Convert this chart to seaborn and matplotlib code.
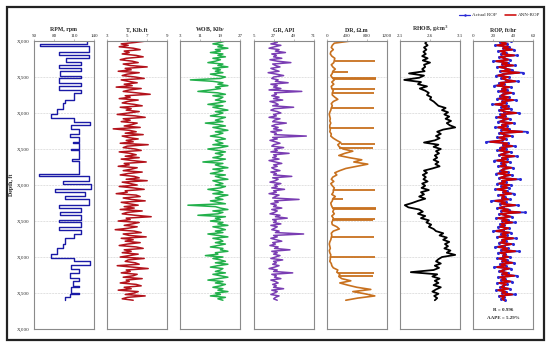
import numpy as np
import pandas as pd
import seaborn as sns
import matplotlib.pyplot as plt
from matplotlib.patches import Rectangle
from matplotlib.lines import Line2D

# depth samples (relative ft)
depth20 = np.arange(0, 3601, 20)   # fine logs: T, WOB, GR, ROP
depth30 = np.arange(0, 3601, 30)   # DR, RHOB
depth_ticks = [0, 500, 1000, 1500, 2000, 2500, 3000, 3500, 4000]
depth_labels = ["X,000", "X,500", "X,000", "X,500", "X,000", "X,500", "X,000", "X,500", "X,000"]

# RPM is blocky: value holds from each break depth to the next
rpm_depth = [0, 40, 70, 150, 200, 240, 290, 330, 380, 420, 480, 520, 580, 620, 680, 720, 820, 860, 950, 1020,
             1070, 1120, 1160, 1220, 1290, 1330, 1400, 1420, 1500, 1520, 1640, 1660, 1850, 1880, 1950, 1990,
             2060, 2100, 2150, 2200, 2280, 2320, 2380, 2420, 2480, 2520, 2580, 2620, 2680, 2740, 2820, 2870,
             2960, 3020, 3060, 3110, 3160, 3220, 3290, 3330, 3400, 3420, 3500, 3520, 3560]
rpm_vals = [130, 59, 132, 88, 133, 98, 121, 87, 121, 89, 120, 88, 121, 88, 120, 110, 96, 93, 84, 76,
            110, 134, 106, 118, 104, 118, 108, 118, 106, 118, 107, 118, 58, 132, 93, 136, 82, 126, 97, 132,
            88, 121, 89, 120, 88, 121, 88, 120, 110, 96, 93, 84, 76, 110, 134, 106, 118, 104, 118, 108,
            118, 106, 118, 104, 97]
rpm_end = 3600

torque = [6.9, 5.8, 4.4, 5.1, 4.2, 5.6, 6.3, 4.7, 5.2, 4.5,
          5.9, 6.6, 4.9, 4.3, 5.5, 6.1, 4.6, 5.3, 7.0, 4.8,
          5.4, 4.1, 6.2, 5.0, 4.5, 5.8, 6.7, 4.4, 5.1, 6.0,
          4.7, 5.5, 3.9, 6.4, 5.2, 4.6, 5.9, 7.3, 4.8, 5.3,
          4.2, 6.1, 5.0, 4.5, 5.7, 6.5, 4.3, 5.4, 4.9, 6.2,
          5.1, 4.0, 5.8, 6.8, 4.6, 5.3, 4.4, 6.0, 5.5, 4.7,
          6.3, 3.6, 5.2, 5.9, 4.8, 6.6, 4.5, 5.1, 6.1, 4.9,
          5.6, 4.3, 7.1, 5.0, 4.6, 5.8, 6.4, 4.2, 5.3, 5.9,
          4.8, 6.2, 4.4, 5.5, 6.9, 4.7, 5.2, 4.1, 6.0, 5.4,
          4.6, 6.5, 5.1, 4.3, 5.7, 6.2, 4.9, 7.0, 4.5, 5.3,
          6.0, 4.2, 5.6, 6.7, 4.8, 5.0, 3.9, 5.9, 6.3, 4.6,
          5.4, 6.8, 4.4, 5.2, 6.1, 4.7, 5.7, 4.3, 6.5, 5.0,
          4.5, 5.8, 7.4, 4.9, 5.3, 4.1, 6.2, 5.5, 4.7, 6.0,
          5.1, 3.8, 5.7, 6.4, 4.6, 5.2, 6.9, 4.4, 5.6, 4.8,
          6.3, 5.0, 4.2, 5.9, 6.6, 4.7, 5.4, 4.5, 6.1, 5.2,
          4.3, 6.7, 5.1, 4.8, 5.8, 6.2, 4.0, 5.5, 7.1, 4.9,
          5.3, 4.4, 6.0, 5.6, 4.6, 6.5, 4.9, 5.2, 4.3, 5.9,
          6.4, 4.7, 5.4, 4.1, 6.1, 5.7, 4.8, 6.8, 5.0, 4.5,
          5.6]

wob = [21, 19, 16, 20, 18, 22, 17, 19, 15, 20,
       18, 21, 16, 19, 17, 14, 20, 18, 22, 16,
       19, 17, 20, 15, 18, 21, 19, 7, 16, 20,
       18, 22, 17, 19, 15, 10, 18, 21, 16, 20,
       19, 17, 21, 18, 14, 20, 16, 19, 22, 17,
       20, 18, 15, 21, 19, 17, 20, 13, 18, 21,
       16, 19, 22, 17, 20, 18, 15, 19, 21, 17,
       18, 20, 16, 22, 19, 14, 18, 21, 17, 20,
       19, 16, 21, 18, 12, 20, 17, 19, 22, 16,
       20, 18, 15, 21, 17, 19, 22, 16, 18, 20,
       17, 21, 19, 14, 18, 20, 16, 22, 19, 17,
       20, 15, 18, 21, 6, 17, 19, 22, 16, 20,
       18, 10, 21, 17, 19, 15, 20, 18, 22, 16,
       19, 21, 17, 20, 14, 18, 22, 16, 19, 20,
       17, 21, 18, 15, 20, 19, 22, 17, 18, 13,
       20, 16, 19, 21, 17, 22, 18, 15, 20, 19,
       17, 21, 16, 19, 22, 18, 14, 20, 17, 21,
       19, 16, 20, 18, 22, 17, 19, 15, 21, 18,
       20]

gr = [26, 31, 24, 35, 28, 22, 33, 29, 40, 25,
      30, 27, 36, 23, 31, 46, 26, 29, 34, 24,
      28, 33, 21, 30, 38, 27, 25, 32, 29, 43,
      24, 31, 27, 35, 22, 58, 28, 30, 25, 33,
      27, 37, 23, 29, 32, 26, 49, 28, 24, 31,
      35, 27, 30, 22, 34, 28, 26, 41, 29, 25,
      32, 27, 36, 24, 30, 28, 63, 26, 31, 23,
      29, 34, 27, 25, 38, 28, 31, 24, 44, 27,
      30, 26, 33, 22, 29, 36, 27, 31, 25, 28,
      34, 24, 30, 27, 47, 26, 32, 29, 23, 35,
      28, 31, 25, 39, 27, 30, 22, 33, 29, 26,
      55, 28, 32, 24, 30, 27, 36, 25, 31, 28,
      23, 34, 29, 42, 26, 30, 27, 35, 24, 31,
      28, 25, 33, 29, 60, 27, 31, 24, 30, 36,
      26, 29, 23, 32, 28, 45, 25, 31, 27, 34,
      29, 24, 37, 27, 30, 26, 33, 28, 22, 31,
      27, 48, 25, 30, 28, 35, 24, 29, 32, 26,
      30, 27, 38, 25, 31, 28, 24, 33, 29, 27,
      31]

# resistivity background trend plus thin single-sample spikes
dr = [480, 150, 110, 90, 130, 80, 70, 100, 160, 150,
      140, 90, 120, 170, 120, 110, 80, 110, 150, 100,
      140, 90, 100, 130, 110, 110, 160, 220, 130, 90,
      110, 90, 80, 60, 50, 60, 70, 60, 80, 60,
      60, 70, 60, 90, 80, 130, 200, 280, 220, 250,
      330, 520, 360, 240, 450, 700, 540, 820, 600, 380,
      260, 160, 200, 120, 90, 140, 80, 110, 150, 130,
      130, 100, 170, 120, 110, 80, 90, 110, 140, 120,
      150, 100, 130, 120, 100, 110, 200, 250, 130, 90,
      100, 90, 80, 60, 50, 60, 70, 50, 60, 80,
      70, 70, 60, 90, 100, 130, 220, 200, 260, 240,
      300, 480, 260, 420, 600, 880, 520, 760, 960, 620, 380]
dr_spike_depth = [275, 425, 512, 528, 668, 725, 925, 1205, 1435, 1480,
                  2065, 2195, 2318, 2334, 2478, 2492, 2718, 3005, 3215, 3262]
dr_spike_base = [160, 120, 110, 150, 100, 110, 90, 60, 280, 250,
                 130, 120, 110, 140, 120, 100, 90, 70, 220, 260]
dr_spike_vals = [960, 420, 980, 980, 960, 950, 940, 950, 960, 920,
                 960, 320, 980, 980, 960, 930, 950, 960, 950, 920]

rhob = [2.55, 2.52, 2.56, 2.50, 2.54, 2.49, 2.53, 2.47, 2.56, 2.48,
        2.60, 2.50, 2.52, 2.47, 2.51, 2.25, 2.50, 2.42, 2.17, 2.45,
        2.40, 2.55, 2.43, 2.52, 2.58, 2.55, 2.62, 2.60, 2.66, 2.70,
        2.74, 2.86, 2.80, 2.90, 2.84, 2.92, 2.86, 2.95, 2.88, 2.93,
        3.02, 2.82, 2.72, 2.78, 2.70, 2.76, 2.68, 2.50, 2.74, 2.66,
        2.78, 2.70, 2.75, 2.68, 2.72, 2.66, 2.74, 2.69, 2.76, 2.64,
        2.50, 2.55, 2.48, 2.53, 2.49, 2.56, 2.47, 2.52, 2.46, 2.58,
        2.45, 2.50, 2.42, 2.52, 2.40, 2.30, 2.18, 2.24, 2.42, 2.48,
        2.40, 2.52, 2.45, 2.58, 2.54, 2.62, 2.58, 2.66, 2.70, 2.82,
        2.76, 2.88, 2.82, 2.92, 2.85, 2.90, 2.84, 2.94, 2.88, 3.02,
        2.80, 2.74, 2.70, 2.78, 2.68, 2.75, 2.66, 2.28, 2.72, 2.64,
        2.76, 2.68, 2.74, 2.66, 2.78, 2.70, 2.64, 2.74, 2.67, 2.72, 2.68]

rop_actual = [38, 27, 34, 22, 36, 30, 41, 25, 33, 28,
              44, 26, 31, 37, 20, 35, 29, 42, 24, 32,
              39, 27, 50, 30, 23, 36, 28, 33, 45, 26,
              31, 21, 38, 29, 34, 25, 40, 30, 27, 36,
              24, 43, 29, 33, 19, 35, 28, 38, 26, 31,
              46, 27, 32, 23, 37, 30, 25, 41, 29, 34,
              22, 36, 28, 54, 26, 31, 39, 24, 33, 29,
              13, 35, 30, 42, 27, 33, 24, 38, 31, 26,
              44, 29, 34, 21, 37, 28, 32, 25, 40, 30,
              27, 35, 23, 39, 31, 26, 47, 29, 33, 24,
              38, 28, 36, 22, 34, 30, 41, 25, 32, 29,
              37, 18, 33, 27, 45, 30, 24, 36, 28, 52,
              26, 32, 39, 23, 35, 29, 42, 27, 31, 25,
              36, 30, 20, 38, 28, 34, 24, 43, 29, 33,
              26, 40, 31, 22, 35, 28, 46, 25, 32, 30,
              37, 24, 34, 29, 41, 27, 33, 21, 38, 30,
              26, 35, 29, 44, 25, 32, 28, 39, 24, 34,
              30, 27, 37, 23, 33, 29, 42, 26, 31, 28,
              32]

rop_ann = [36, 28, 33, 24, 35, 30, 39, 27, 32, 29,
           41, 27, 31, 35, 23, 34, 29, 40, 26, 32,
           37, 28, 46, 30, 25, 35, 29, 33, 42, 27,
           31, 24, 36, 29, 33, 27, 38, 30, 28, 35,
           26, 40, 29, 32, 22, 34, 29, 36, 27, 31,
           43, 28, 32, 25, 35, 30, 27, 39, 29, 33,
           25, 35, 29, 49, 27, 31, 37, 26, 32, 29,
           17, 34, 30, 39, 28, 32, 26, 36, 31, 27,
           41, 29, 33, 24, 35, 29, 32, 27, 38, 30,
           28, 34, 25, 37, 31, 27, 43, 29, 32, 26,
           36, 29, 34, 24, 33, 30, 38, 27, 31, 29,
           35, 22, 32, 28, 42, 30, 26, 35, 29, 47,
           27, 32, 37, 25, 34, 29, 39, 28, 31, 27,
           35, 30, 23, 36, 29, 33, 26, 40, 29, 32,
           27, 38, 31, 25, 34, 29, 42, 27, 32, 30,
           35, 26, 33, 29, 39, 28, 32, 24, 36, 30,
           27, 34, 29, 41, 27, 32, 29, 37, 26, 33,
           30, 28, 35, 25, 32, 29, 39, 27, 31, 29,
           31]

tracks = [
    ("RPM, rpm", [50, 80, 110, 140], "#1a1aa6"),
    ("T, Klb.ft", [3, 5, 7, 9], "#b3121b"),
    ("WOB, Klb$_f$", [3, 11, 19, 27], "#22b04b"),
    ("GR, API", [5, 27, 49, 71], "#7a3db3"),
    ("DR, Ω.m", [0, 400, 800, 1200], "#c8711f"),
    ("RHOB, g/cm$^3$", [2.1, 2.6, 3.1], "black"),
    ("ROP, ft/hr", [0, 20, 40, 60], "#cc0000"),
]

# build the RPM step outline from the break list
rpm_x, rpm_y = [], []
bounds = rpm_depth[1:] + [rpm_end]
for top, bot, v in zip(rpm_depth, bounds, rpm_vals):
    rpm_x += [v, v]
    rpm_y += [top, bot]

sns.set_style("white")
plt.rcParams['font.family'] = ['Liberation Serif', 'DejaVu Serif']

fig = plt.figure(figsize=(5.5, 3.46), dpi=100)
fig.patches.append(Rectangle((0.013, 0.017), 0.976, 0.963, transform=fig.transFigure,
                             fill=False, edgecolor="#222222", linewidth=1.6))

axes = []
for i in range(len(tracks)):
    ax = fig.add_axes([34 / 550 + i * 73.2 / 550, 0.049, 60 / 550, 0.8325])
    axes.append(ax)

series = [(rpm_x, rpm_y, 1.0), (torque, depth20, 1.1), (wob, depth20, 1.1), (gr, depth20, 1.1),
          (dr, depth30, 1.2), (rhob, depth30, 1.3)]
for ax, (xv, yv, lw), (title, ticks, color) in zip(axes[:6], series, tracks[:6]):
    df = pd.DataFrame({"val": xv, "depth": yv})
    sns.lineplot(data=df, x="val", y="depth", orient="y", sort=False, estimator=None,
                 color=color, lw=lw, ax=ax)

axes[4].hlines(dr_spike_depth, dr_spike_base, dr_spike_vals, color=tracks[4][2], lw=1.3)

ax_rop = axes[6]
df_rop = pd.DataFrame({"depth": depth20, "Actual ROP": rop_actual, "ANN-ROP": rop_ann})
sns.lineplot(data=df_rop, x="Actual ROP", y="depth", orient="y", sort=False, estimator=None,
             color="#2a2ad6", lw=1.1, marker="o", markersize=2.2, markeredgewidth=0, ax=ax_rop)
sns.lineplot(data=df_rop, x="ANN-ROP", y="depth", orient="y", sort=False, estimator=None,
             color="#cc0000", lw=1.3, ax=ax_rop)
ax_rop.text(30, 3730, "R = 0.996", ha="center", va="center", fontsize=3.6, fontweight="bold")
ax_rop.text(30, 3850, "AAPE = 5.29%", ha="center", va="center", fontsize=3.6, fontweight="bold")

for i, (ax, (title, ticks, color)) in enumerate(zip(axes, tracks)):
    ax.set_xlim(ticks[0], ticks[-1])
    ax.set_ylim(4000, 0)
    ax.xaxis.tick_top()
    ax.xaxis.set_label_position("top")
    ax.set_xticks(ticks)
    ax.set_xticklabels([f"{t:g}" for t in ticks], fontsize=3.6)
    ax.set_xlabel(title, fontsize=4.2, fontweight="bold", labelpad=2)
    ax.set_yticks(depth_ticks)
    ax.tick_params(axis="x", length=1.5, width=0.4, pad=1, color="#888888")
    ax.tick_params(axis="y", length=2, width=0.4, pad=1, color="#888888", labelsize=3.6)
    if i == 0:
        ax.set_yticklabels(depth_labels)
        ax.set_ylabel("Depth, ft", fontsize=4.2, fontweight="bold", labelpad=2)
    else:
        ax.set_yticklabels([])
        ax.set_ylabel("")
    ax.grid(axis="y", color="#cccccc", linestyle="--", linewidth=0.4)
    for sp in ax.spines.values():
        sp.set_color("#8a8a8a")
        sp.set_linewidth(0.8)

handles = [Line2D([], [], color="#2a2ad6", lw=0.9, marker="o", markersize=1.8, markeredgewidth=0),
           Line2D([], [], color="#cc0000", lw=1.1)]
fig.legend(handles, ["Actual ROP", "ANN-ROP"], loc="center right", bbox_to_anchor=(0.99, 1 - 15 / 346),
           ncol=2, frameon=False, fontsize=3.6, handlelength=2.2, columnspacing=1.5, handletextpad=0.4)

fig.savefig("out.png", dpi=100)
